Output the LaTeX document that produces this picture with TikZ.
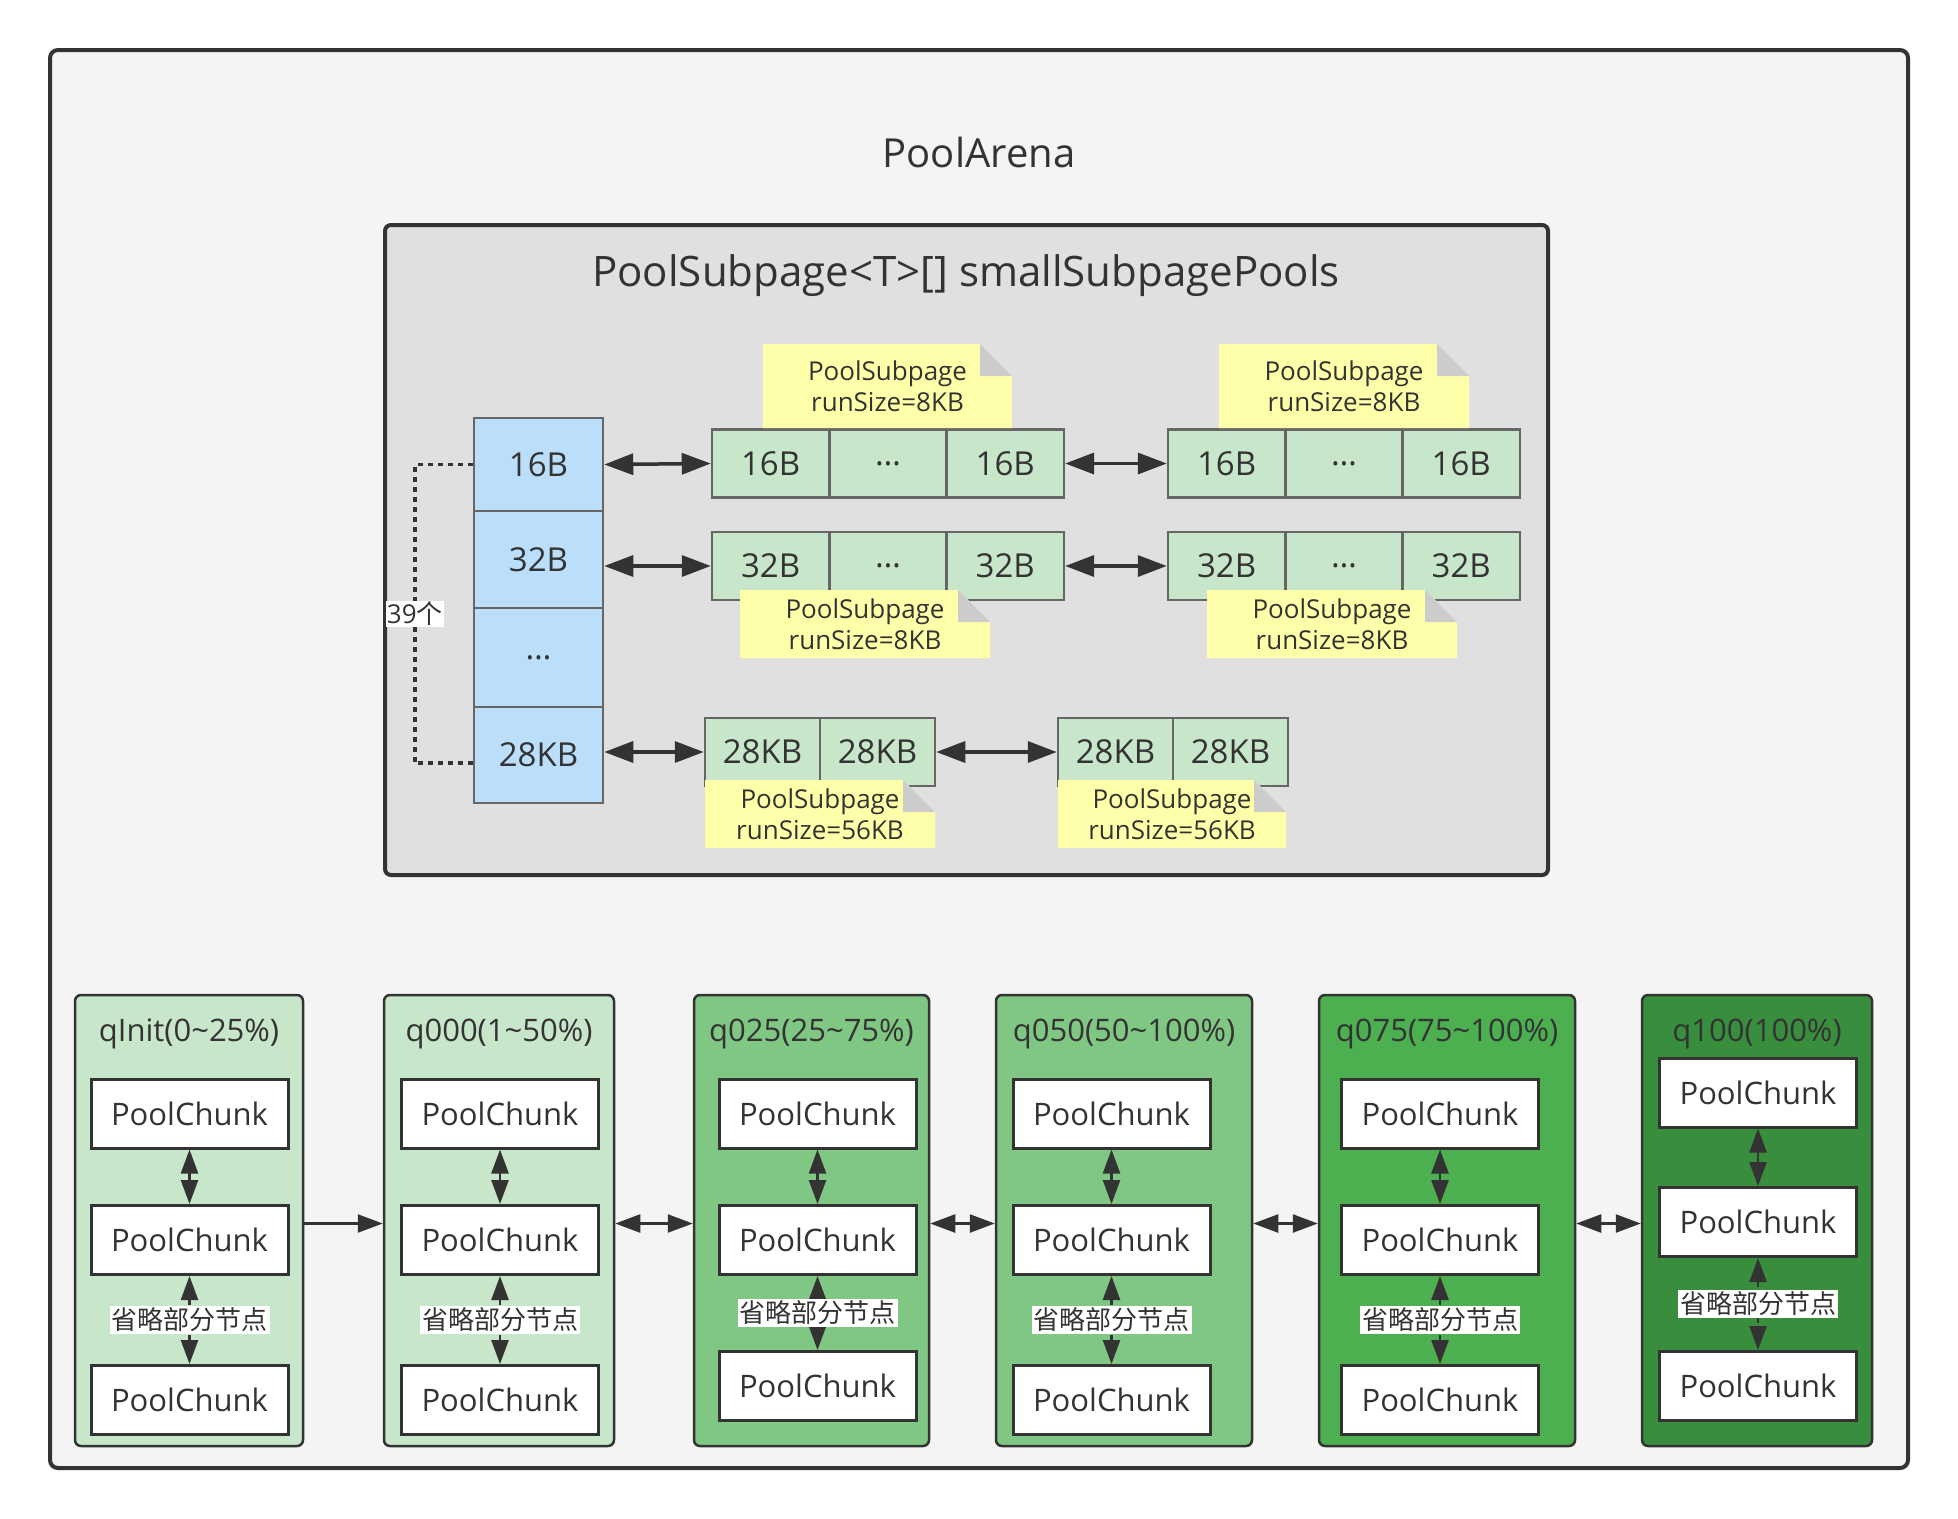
\documentclass[tikz,border=0pt]{standalone}
\usepackage{fontspec}
\setmainfont{Open Sans}
\newfontfamily\cjk{Noto Sans CJK SC}
\usepackage{tikz}
\usetikzlibrary{arrows.meta,positioning}

\definecolor{ink}{HTML}{333333}
\definecolor{arenabg}{HTML}{F4F4F4}
\definecolor{poolbg}{HTML}{E0E0E0}
\definecolor{sizeblue}{HTML}{BBDEFB}
\definecolor{pagegreen}{HTML}{C8E6C9}
\definecolor{cellline}{HTML}{666666}
\definecolor{noteyellow}{HTML}{FFFFAA}
\definecolor{notefold}{HTML}{CCCCCC}
\definecolor{qlight}{HTML}{C8E6C9}
\definecolor{qmid}{HTML}{81C784}
\definecolor{qstrong}{HTML}{4CAF50}
\definecolor{qdark}{HTML}{388E3C}

\begin{document}
\begin{tikzpicture}[x=1pt,y=-1pt,
    every node/.append style={text=ink},
    arena/.style={draw=ink,line width=4pt,fill=arenabg,rounded corners=8pt},
    poolbox/.style={draw=ink,line width=4pt,fill=poolbg,rounded corners=6pt},
    sizecell/.style={draw=cellline,line width=2.5pt,fill=sizeblue,minimum width=129pt,inner sep=0pt,font=\fontsize{33}{40}\selectfont},
    pagecell/.style={draw=cellline,line width=2.5pt,fill=pagegreen,minimum height=68pt,inner sep=0pt,font=\fontsize{33}{40}\selectfont},
    subnote/.style={align=center,inner sep=0pt,font=\fontsize{26}{31}\selectfont},
    biglink/.style={draw=ink,line width=3.5pt,>={Triangle[length=29pt,width=21pt]},<->},
    countline/.style={draw=ink,line width=3.5pt,dash pattern=on 5pt off 5pt},
    qlist/.style={draw=ink,line width=2.5pt,rounded corners=6pt,minimum height=451pt,inner sep=0pt},
    qtitle/.style={font=\fontsize{31}{37}\selectfont},
    chunk/.style={draw=ink,line width=3pt,fill=white,minimum width=197pt,minimum height=69pt,inner sep=0pt,font=\fontsize{31}{37}\selectfont},
    chunklink/.style={draw=ink,line width=2.5pt,>={Triangle[length=24pt,width=17pt]},<->},
    chainlink/.style={draw=ink,line width=2.5pt,>={Triangle[length=25pt,width=18pt]}},
    omit/.style={fill=white,inner sep=2pt,font=\cjk\fontsize{26}{31}\selectfont}
  ]
  \useasboundingbox (0,0) rectangle (1958,1518);
  \fill[white] (0,0) rectangle (1958,1518);

  % PoolArena frame
  \draw[arena] (50,50) rectangle (1908,1468);
  \node[font=\fontsize{40}{48}\selectfont] (arenatitle) at (979,152) {PoolArena};

  % smallSubpagePools box
  \draw[poolbox] (385,225) rectangle (1548,875);
  \node[font=\fontsize{42}{50}\selectfont] (pooltitle) at (966,276) {PoolSubpage<T>[] smallSubpagePools};

  % size classes
  \node[sizecell,minimum height=93pt] (b16) at (538.5,464.5) {16B};
  \node[sizecell,minimum height=97pt] (b32) at (538.5,559.5) {32B};
  \node[sizecell,minimum height=99pt] (bdots) at (538.5,657.5) {…};
  \node[sizecell,minimum height=96pt] (b28) at (538.5,755) {28KB};

  % subpages
  \foreach \gx/\grp in {712/a,1168/b}{
    \foreach \k/\txt in {0/16B,1/…,2/16B}
      \node[pagecell,minimum width=117.3pt] (g16\grp\k) at (\gx+58.65+117.3*\k,463.5) {\txt};
    \foreach \k/\txt in {0/32B,1/…,2/32B}
      \node[pagecell,minimum width=117.3pt] (g32\grp\k) at (\gx+58.65+117.3*\k,566) {\txt};
  }
  \foreach \gx/\grp in {705/a,1058/b}
    \foreach \k in {0,1}
      \node[pagecell,minimum width=115pt] (g28\grp\k) at (\gx+57.5+115*\k,752) {28KB};

  \draw[biglink] (b16.east) -- (g16a0.west);
  \draw[biglink] (g16a2.east) -- (g16b0.west);
  \draw[biglink] (b32.east |- g32a0.west) -- (g32a0.west);
  \draw[biglink] (g32a2.east) -- (g32b0.west);
  \draw[biglink] (b28.east |- g28a0.west) -- (g28a0.west);
  \draw[biglink] (g28a1.east) -- (g28b0.west);

  % notes
  \foreach \nx/\ny/\nw/\nh/\nsize [count=\i] in {763/344/249/84/8KB,1219/344/250/84/8KB,740/590/250/68/8KB,1207/590/250/68/8KB,705/780/230/68/56KB,1058/780/228/68/56KB}{
    \fill[noteyellow] (\nx,\ny) -- ++(\nw-32,0) -- ++(32,32) -- ++(0,\nh-32) -- ++(-\nw,0) -- cycle;
    \fill[notefold] (\nx+\nw-32,\ny) -- ++(0,32) -- ++(32,0) -- cycle;
    \node[subnote] (note\i) at (\nx+\nw/2,\ny+\nh/2) {PoolSubpage\\runSize=\nsize};
  }

  % 39 size classes
  \draw[countline] (b16.west) -- ++(-58,0) |- ([yshift=-8pt]b28.west)
    node[pos=0.25,fill=white,inner sep=1pt,font=\fontsize{26}{31}\selectfont] (countlbl) {39{\cjk 个}};

  % chunk lists
  \foreach \cname/\cx/\cw/\cfill/\ctitle/\kx/\ya/\yb/\yc in {
      qinit/189/228/qlight/qInit(0\textasciitilde25\%)/189.5/1113.5/1240/1400,
      q000/499/230/qlight/q000(1\textasciitilde50\%)/500/1113.5/1240/1400,
      q025/811.5/235/qmid/q025(25\textasciitilde75\%)/817.5/1113.5/1240/1386,
      q050/1124/256/qmid/q050(50\textasciitilde100\%)/1111.5/1113.5/1240/1400,
      q075/1447/256/qstrong/q075(75\textasciitilde100\%)/1440/1113.5/1240/1400,
      q100/1757/230/qdark/q100(100\%)/1758/1092.5/1222/1386}{
    \node[qlist,fill=\cfill,minimum width=\cw pt] (\cname) at (\cx,1220.5) {};
    \node[qtitle] (\cname-t) at (\cx,1034) {\ctitle};
    \node[chunk] (\cname-1) at (\kx,\ya) {PoolChunk};
    \node[chunk] (\cname-2) at (\kx,\yb) {PoolChunk};
    \node[chunk] (\cname-3) at (\kx,\yc) {PoolChunk};
    \draw[chunklink] (\cname-1.south) -- (\cname-2.north);
    \draw[chunklink,dash pattern=on 6pt off 6pt] (\cname-2.south) -- (\cname-3.north)
      node[midway,omit] (\cname-o) {省略部分节点};
  }

  \draw[chainlink,->] ([yshift=-3pt]qinit.east) -- ([yshift=-3pt]q000.west);
  \draw[chainlink,<->] ([yshift=-3pt]q000.east) -- ([yshift=-3pt]q025.west);
  \draw[chainlink,<->] ([yshift=-3pt]q025.east) -- ([yshift=-3pt]q050.west);
  \draw[chainlink,<->] ([yshift=-3pt]q050.east) -- ([yshift=-3pt]q075.west);
  \draw[chainlink,<->] ([yshift=-3pt]q075.east) -- ([yshift=-3pt]q100.west);
\end{tikzpicture}
\end{document}
